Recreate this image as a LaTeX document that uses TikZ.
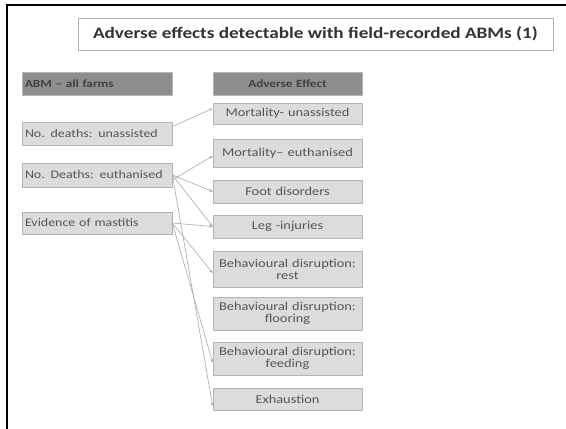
\documentclass[tikz,border=0pt]{standalone}
\usepackage{fontspec}
\setmainfont{Carlito}
\newfontfamily\widefont[FakeStretch=1.2,Ligatures=TeX]{Carlito}
\usetikzlibrary{arrows.meta,calc}
\definecolor{hdrfill}{HTML}{8E8E8E}
\definecolor{boxfill}{HTML}{DCDCDC}
\definecolor{boxline}{HTML}{B4B4B4}
\definecolor{txt}{HTML}{555555}
\definecolor{conn}{HTML}{AAAAAA}
\begin{document}
\begin{tikzpicture}[x=1pt,y=-1pt,
  hdrbox/.style={draw=boxline,fill=hdrfill,line width=0.6pt,minimum height=23pt,inner sep=2pt,text=black!75,font=\widefont\fontsize{11}{12}\selectfont\bfseries},
  lbox/.style={draw=boxline,fill=boxfill,line width=0.6pt,minimum width=150pt,text width=144pt,align=left,inner xsep=3pt,inner ysep=2pt,text=txt,font=\widefont\fontsize{11.6}{14}\selectfont},
  rbox/.style={draw=boxline,fill=boxfill,line width=0.6pt,minimum width=149pt,text width=145pt,align=center,inner xsep=2pt,inner ysep=2pt,text=txt,font=\widefont\fontsize{12}{14}\selectfont},
  link/.style={draw=conn,line width=0.6pt,-{Stealth[length=3.5pt,width=3pt]}}]
\useasboundingbox (0,0) rectangle (566,429);
\fill[white] (0,0) rectangle (566,429);
% frame
\draw[black,line width=2pt] (7,429) -- (7,5) -- (566,5);
% title
\node[draw=boxline,line width=0.8pt,minimum width=475pt,minimum height=32pt,inner sep=0pt,font=\widefont\fontsize{16}{18}\selectfont\bfseries,text=black!80] (title) at (315.5,34) {Adverse effects detectable with field-recorded ABMs (1)};
% headers
\node[hdrbox,minimum width=150pt,text width=144pt,inner xsep=3pt,align=left] (habm) at (97,83.5) {ABM – all farms};
\node[hdrbox,minimum width=149pt,text width=145pt,align=center] (hae) at (287.5,83.5) {Adverse Effect};
% left boxes
\node[lbox,minimum height=23pt] (unas) at (97,133.5) {\mbox{No. deaths: unassisted}};
\node[lbox,minimum height=24pt] (euth) at (97,175) {\mbox{No. Deaths: euthanised}};
\node[lbox,minimum height=22pt] (mast) at (97,223) {\mbox{Evidence of mastitis}};
% right boxes
\node[rbox,minimum height=21pt] (mun) at (287.5,113.5) {Mortality- unassisted};
\node[rbox,minimum height=28pt] (meu) at (287.5,153) {Mortality– euthanised};
\node[rbox,minimum height=23pt] (foot) at (287.5,191.5) {Foot disorders};
\node[rbox,minimum height=23pt] (leg) at (287.5,226.5) {Leg -injuries};
\node[rbox,minimum height=36pt] (rest) at (287.5,269) {Behavioural disruption:\\[-2pt]rest};
\node[rbox,minimum height=33pt] (floor) at (287.5,313.5) {Behavioural disruption:\\[-2pt]flooring};
\node[rbox,minimum height=33pt] (feed) at (287.5,358.5) {Behavioural disruption:\\[-2pt]feeding};
\node[rbox,minimum height=22pt] (exh) at (287.5,399) {Exhaustion};
% connectors
\draw[link] ([yshift=7pt]unas.east) -- ([yshift=5pt]mun.west);
\draw[link] ([yshift=-5pt]euth.east) -- ([yshift=-3pt]meu.west);
\draw[link] (euth.east) -- (foot.west);
\draw[link] (euth.east) -- (leg.west);
\draw[link] (euth.east) -- ([yshift=-7pt]exh.west);
\draw[link] (mast.east) -- (leg.west);
\draw[link] (mast.east) -- ([yshift=-4pt]rest.west);
\draw[link] (mast.east) -- ([yshift=-4pt]feed.west);
\end{tikzpicture}
\end{document}
